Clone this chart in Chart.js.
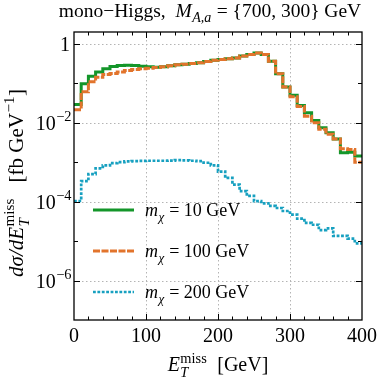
<!DOCTYPE html>
<html><head><meta charset="utf-8">
<script src="https://cdn.jsdelivr.net/npm/chart.js@4.4.0/dist/chart.umd.min.js"></script>
<style>html,body{margin:0;padding:0;background:#fff;}#wrap{position:relative;width:381px;height:381px;}</style>
</head><body><div id="wrap"><canvas id="c" width="381" height="381"></canvas></div>
<script>
// ---- data ----
const binEdges = [0,10,20,30,40,50,60,70,80,90,100,110,120,130,140,150,160,170,180,190,200,210,220,230,240,250,260,270,280,290,300,310,320,330,340,350,360,370,380,390];
const lastEdge = 400;
const mchi10 = [0.029,0.097,0.151,0.195,0.233,0.266,0.282,0.287,0.282,0.271,0.262,0.256,0.262,0.277,0.294,0.305,0.317,0.33,0.356,0.385,0.40,0.42,0.44,0.49,0.54,0.59,0.536,0.363,0.174,0.081,0.050,0.0274,0.0179,0.0114,0.0075,0.0056,0.0039,0.00174,0.0018,0.00143];
const mchi100 = [0.0213,0.061,0.109,0.143,0.167,0.177,0.195,0.211,0.223,0.233,0.241,0.251,0.262,0.277,0.294,0.305,0.317,0.33,0.356,0.385,0.40,0.42,0.44,0.49,0.54,0.59,0.536,0.363,0.174,0.081,0.0455,0.026,0.0147,0.010,0.0068,0.0051,0.0039,0.0022,0.0021,0.0010];
const mchi200 = [1.04e-4,3.3e-4,5.0e-4,7.0e-4,8.3e-4,9.5e-4,1.01e-3,1.05e-3,1.07e-3,1.08e-3,1.09e-3,1.09e-3,1.09e-3,1.10e-3,1.13e-3,1.11e-3,1.09e-3,1.06e-3,9.7e-4,8.3e-4,5.8e-4,4.0e-4,2.7e-4,1.85e-4,1.4e-4,1.03e-4,9.1e-5,7.8e-5,6.9e-5,5.8e-5,4.7e-5,3.7e-5,2.9e-5,2.6e-5,1.9e-5,2.1e-5,1.35e-5,1.35e-5,1.15e-5,8.8e-6];
const seriesLabels = ['10 GeV','100 GeV','200 GeV'];
const xTickLabels = [0,100,200,300,400];
const yTickExps = [0,-2,-4,-6];

const FAM = "'Liberation Serif','Times New Roman',serif";
function toSteps(vals){
  const pts = binEdges.map((e,i)=>({x:e,y:vals[i]}));
  pts.push({x:lastEdge,y:vals[vals.length-1]});
  return pts;
}
const styles = [
  {color:'#14962a', width:3, dash:[]},
  {color:'#e2742c', width:3, dash:[7,1.5]},
  {color:'#17a0c0', width:2.7, dash:[2.8,1.6]}
];
const seriesVals = [mchi10, mchi100, mchi200];

function rich(ctx, parts, x, y, align, base){
  const items=[]; let w=0;
  const sc = base*0.72;
  for(const p of parts){
    if(p.t!==undefined){
      const f=(p.it?'italic ':'')+base+'px '+FAM; ctx.font=f;
      const pw=ctx.measureText(p.t).width;
      items.push({kind:'t',p,f,pw}); w+=pw;
    } else {
      let sw=0, uw=0, sf=null, uf=null;
      if(p.sub){ sf=(p.subIt?'italic ':'')+sc+'px '+FAM; ctx.font=sf; sw=ctx.measureText(p.sub).width; }
      if(p.sup){ uf=(p.supIt?'italic ':'')+sc+'px '+FAM; ctx.font=uf; uw=ctx.measureText(p.sup).width; }
      const pw=Math.max(sw,uw)+1;
      items.push({kind:'s',p,sf,uf,pw}); w+=pw;
    }
  }
  let cx = align==='center'? x-w/2 : align==='right'? x-w : x;
  ctx.textAlign='left'; ctx.textBaseline='alphabetic';
  for(const it of items){
    if(it.kind==='t'){ ctx.font=it.f; ctx.fillText(it.p.t,cx,y); }
    else {
      if(it.p.sub){ ctx.font=it.sf; ctx.fillText(it.p.sub,cx+0.5,y+base*0.28); }
      if(it.p.sup){ ctx.font=it.uf; ctx.fillText(it.p.sup,cx+0.5,y-base*0.42); }
    }
    cx+=it.pw;
  }
}

const deco = {
  id:'deco',
  beforeDatasetsDraw(chart){
    const {ctx, chartArea:a, scales:{x,y}} = chart;
    ctx.save();
    ctx.strokeStyle='#b4b4b4'; ctx.lineWidth=1; ctx.setLineDash([1.5,2.5]);
    for(const v of xTickLabels){
      if(v===0||v===400) continue;
      const px=Math.round(x.getPixelForValue(v))+0.5;
      ctx.beginPath(); ctx.moveTo(px,a.top); ctx.lineTo(px,a.bottom); ctx.stroke();
    }
    for(const e of yTickExps){
      const py=Math.round(y.getPixelForValue(Math.pow(10,e)))+0.5;
      ctx.beginPath(); ctx.moveTo(a.left,py); ctx.lineTo(a.right,py); ctx.stroke();
    }
    ctx.restore();
  },
  afterDatasetsDraw(chart){
    const {ctx, chartArea:a, scales:{x,y}} = chart;
    ctx.save();
    ctx.setLineDash([]);
    ctx.strokeStyle='#000'; ctx.lineWidth=1.3;
    ctx.strokeRect(a.left,a.top,a.right-a.left,a.bottom-a.top);
    ctx.lineWidth=1;
    // x ticks
    for(let v=20; v<400; v+=20){
      const px=Math.round(x.getPixelForValue(v))+0.5;
      const L = (v%100===0)?6:3.5;
      ctx.beginPath(); ctx.moveTo(px,a.bottom); ctx.lineTo(px,a.bottom-L);
      ctx.moveTo(px,a.top); ctx.lineTo(px,a.top+L); ctx.stroke();
    }
    // y ticks
    for(let e=-6; e<=0; e++){
      const py=Math.round(y.getPixelForValue(Math.pow(10,e)))+0.5;
      const L = (e%2===0)?6:4;
      ctx.beginPath(); ctx.moveTo(a.left,py); ctx.lineTo(a.left+L,py);
      ctx.moveTo(a.right,py); ctx.lineTo(a.right-L,py); ctx.stroke();
    }
    ctx.fillStyle='#000';
    // x tick labels
    ctx.font='20px '+FAM; ctx.textAlign='center'; ctx.textBaseline='alphabetic';
    for(const v of xTickLabels){ ctx.fillText(String(v), x.getPixelForValue(v), 342); }
    // y tick labels
    for(const e of yTickExps){
      const py=y.getPixelForValue(Math.pow(10,e));
      if(e===0){ rich(ctx,[{t:'1'}],70,py+7,'right',20); }
      else { rich(ctx,[{t:'10'},{sup:'\u2212'+(-e)}],72,py+7,'right',20); }
    }
    // title
    rich(ctx,[{t:'mono\u2212Higgs,  '},{t:'M',it:true},{sub:'A,a',subIt:true},{t:' = {700, 300} GeV'}],210,17,'center',19.5);
    // x label
    rich(ctx,[{t:'E',it:true},{sub:'T',subIt:true,sup:'miss'},{t:'  [GeV]'}],218,371,'center',20);
    // y label
    ctx.save(); ctx.translate(23,183); ctx.rotate(-Math.PI/2);
    rich(ctx,[{t:'d\u03c3/dE',it:true},{sub:'T',subIt:true,sup:'miss'},{t:'   [fb GeV'},{sup:'\u22121'},{t:']'}],0,0,'center',21);
    ctx.restore();
    // legend
    const ly=[210,251,292];
    for(let i=0;i<3;i++){
      const st=styles[i];
      ctx.strokeStyle=st.color; ctx.lineWidth=st.width; ctx.setLineDash(st.dash);
      ctx.beginPath(); ctx.moveTo(93,ly[i]); ctx.lineTo(134,ly[i]); ctx.stroke();
      ctx.setLineDash([]); ctx.fillStyle='#000';
      rich(ctx,[{t:'m',it:true},{sub:'\u03c7',subIt:true},{t:' = '+seriesLabels[i]}],145,ly[i]+6,'left',18);
    }
    ctx.restore();
  }
};

const datasets = seriesVals.map((v,i)=>({
  label:'m_chi = '+seriesLabels[i],
  data:toSteps(v),
  stepped:true,
  borderColor:styles[i].color,
  borderWidth:styles[i].width,
  borderDash:styles[i].dash,
  borderCapStyle:'butt',
  borderJoinStyle:'miter',
  pointRadius:0,
  fill:false,
  order:[1,0,2][i]
}));

new Chart(document.getElementById('c'),{
  type:'line',
  data:{datasets},
  options:{
    responsive:false, animation:false, devicePixelRatio:1,
    layout:{padding:{left:74,top:32,right:19,bottom:61}},
    scales:{
      x:{type:'linear',min:0,max:400,display:false},
      y:{type:'logarithmic',min:1e-7,max:2,display:false}
    },
    plugins:{legend:{display:false},tooltip:{enabled:false}}
  },
  plugins:[deco]
});
</script></body></html>
